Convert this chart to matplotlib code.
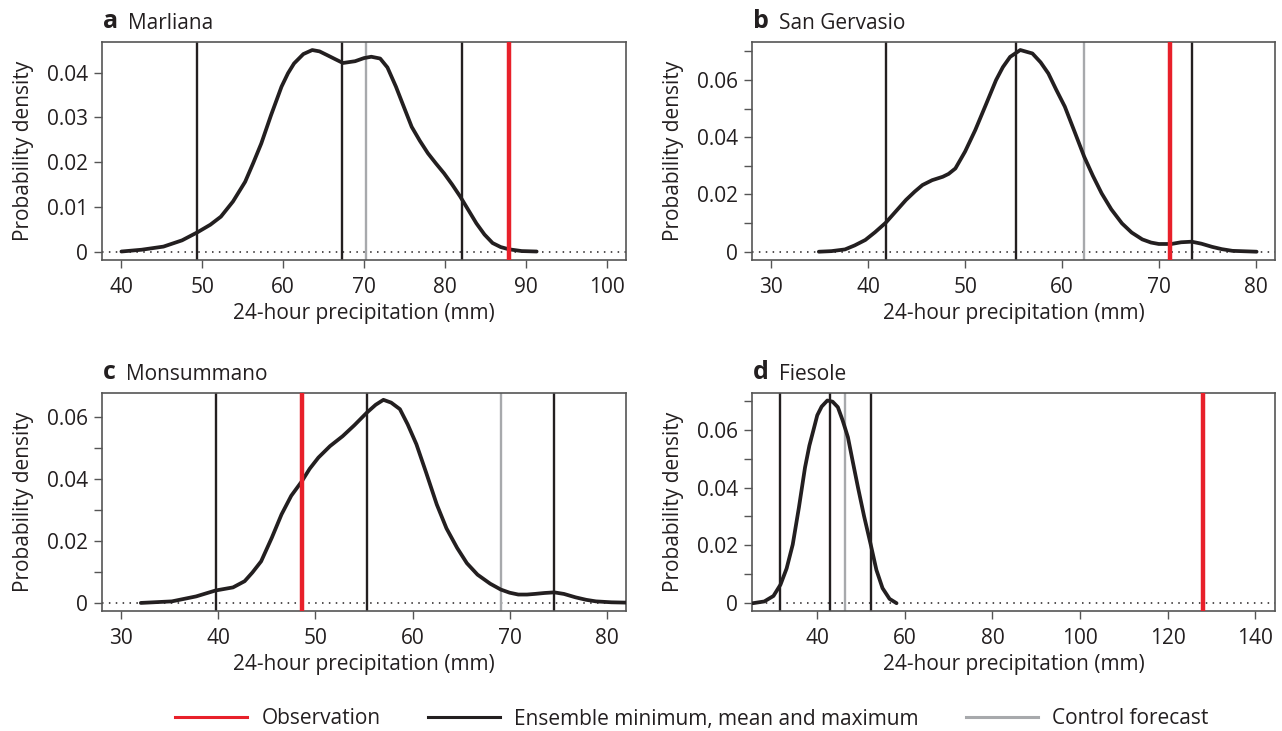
import matplotlib
matplotlib.use("Agg")
import matplotlib.pyplot as plt
from matplotlib.lines import Line2D

plt.rcParams['font.family'] = ['Open Sans', 'DejaVu Sans']

RED = '#e8202a'
BLACK = '#231f20'
GREY = '#a7a9ac'
FRAME = '#555555'

# panel letters and station names
panelLetters = ['a', 'b', 'c', 'd']
stationNames = ['Marliana', 'San Gervasio', 'Monsummano', 'Fiesole']

# density curves (x in mm, y density)
marlianaX = [40, 42.5, 45.2, 47.5, 49.4, 51.0, 52.3, 53.8, 55.3, 56.3, 57.3, 58.5, 59.8, 60.6,
             61.35, 62.5, 63.6, 64.5, 65.4, 66.5, 67.4, 68.9, 70.0, 70.9, 72.0, 72.9, 73.95,
             74.9, 75.9, 76.9, 77.9, 78.9, 79.9, 80.9, 81.9, 82.9, 83.9, 84.9, 85.9, 86.9,
             87.9, 89.5, 91.35]
marlianaY = [0.0, 0.0004, 0.0011, 0.0025, 0.0043, 0.0060, 0.0078, 0.0112, 0.0156, 0.0198, 0.0242, 0.0305, 0.0369, 0.0399,
             0.0421, 0.0442, 0.0451, 0.0448, 0.0440, 0.0430, 0.0422, 0.0426, 0.0433, 0.0436, 0.0432, 0.0412, 0.0369,
             0.0325, 0.0279, 0.0248, 0.0220, 0.0197, 0.0175, 0.0150, 0.0123, 0.0093, 0.0063, 0.0038, 0.0019, 0.0010,
             0.0005, 0.0001, 0.0]

gervasioX = [34.9, 36.2, 37.6, 38.6, 39.7, 40.7, 41.8, 43.9, 44.8, 45.6, 46.6, 47.7, 48.3, 49.0, 50.0,
             51.05, 52.1, 53.2, 53.9, 54.65, 55.7, 56.95, 57.8, 58.6, 59.4, 60.3, 61.3, 62.3, 63.2,
             64.1, 65.1, 66.2, 67.2, 68.3, 69.2, 70.0, 71.3, 72.3, 73.4, 74.4, 75.5, 76.5, 77.6, 80.1]
gervasioY = [0.0, 0.0002, 0.0008, 0.0022, 0.0041, 0.0068, 0.0101, 0.0181, 0.0210, 0.0233, 0.0250, 0.0262, 0.0272, 0.0291, 0.0350,
             0.0425, 0.0510, 0.0600, 0.0645, 0.0681, 0.0705, 0.0693, 0.0662, 0.0623, 0.0567, 0.0507, 0.0420, 0.0332, 0.0265,
             0.0204, 0.0148, 0.0099, 0.0067, 0.0043, 0.0032, 0.0027, 0.0027, 0.0033, 0.0035, 0.0028, 0.0017, 0.0009, 0.0003, 0.0]

monsummanoX = [32.0, 35.2, 37.7, 39.7, 41.5, 42.7, 43.5, 44.4, 45.5, 46.5, 47.5, 48.6, 49.4, 50.3, 51.5,
               52.8, 54.0, 55.3, 56.2, 57.0, 57.8, 58.7, 59.5, 60.4, 61.4, 62.5, 63.5, 64.6, 65.6,
               66.7, 68.0, 69.1, 70.0, 70.9, 71.8, 72.6, 73.6, 74.6, 75.6, 76.8, 77.9, 78.9, 80.5, 82.0]
monsummanoY = [0.0, 0.0005, 0.0021, 0.0040, 0.0050, 0.0070, 0.0098, 0.0134, 0.0210, 0.0285, 0.0345, 0.0392, 0.0432, 0.0468, 0.0505,
               0.0537, 0.0572, 0.0613, 0.0638, 0.0654, 0.0645, 0.0624, 0.0575, 0.0511, 0.0420, 0.0317, 0.0240, 0.0177, 0.0128,
               0.0091, 0.0062, 0.0043, 0.0033, 0.0027, 0.0027, 0.0029, 0.0032, 0.0034, 0.0029, 0.0018, 0.0010, 0.0005, 0.0002, 0.0001]

fiesoleX = [25.3, 27.9, 30.0, 31.6, 33.0, 34.4, 35.8, 37.2, 38.2, 39.1, 40.0, 41.0, 42.3, 43.5, 44.7,
            45.8, 47.0, 48.1, 49.3, 50.7, 52.2, 53.5, 54.9, 56.5, 58.1]
fiesoleY = [0.0, 0.0006, 0.0025, 0.0064, 0.0120, 0.0203, 0.0330, 0.0469, 0.0545, 0.0597, 0.0650, 0.0680, 0.0701, 0.0697, 0.0678,
            0.0632, 0.0574, 0.0490, 0.0400, 0.0300, 0.0203, 0.0115, 0.0052, 0.0015, 0.0]

curvesX = [marlianaX, gervasioX, monsummanoX, fiesoleX]
curvesY = [marlianaY, gervasioY, monsummanoY, fiesoleY]

# ensemble min / mean / max, control forecast, observation (mm)
ensembleMin = [49.4, 41.8, 39.7, 31.6]
ensembleMean = [67.3, 55.3, 55.3, 42.8]
ensembleMax = [82.1, 73.4, 74.6, 52.2]
controlForecast = [70.3, 62.3, 69.1, 46.3]
observation = [87.9, 71.2, 48.6, 128.1]

# axes ranges and ticks
xLimits = [(37.6, 102.4), (28, 82), (28, 82), (25.1, 144.5)]
yLimits = [(-0.0019, 0.0469), (-0.0029, 0.0733), (-0.0026, 0.0676), (-0.0027, 0.0727)]
xTicks = [[40, 50, 60, 70, 80, 90, 100], [30, 40, 50, 60, 70, 80],
          [30, 40, 50, 60, 70, 80], [40, 60, 80, 100, 120, 140]]
yTicks = [[0, 0.01, 0.02, 0.03, 0.04], [0, 0.02, 0.04, 0.06],
          [0, 0.02, 0.04, 0.06], [0, 0.02, 0.04, 0.06]]
yTickLabels = [['0', '0.01', '0.02', '0.03', '0.04'], ['0', '0.02', '0.04', '0.06'],
               ['0', '0.02', '0.04', '0.06'], ['0', '0.02', '0.04', '0.06']]
yMinorTicks = [[], [0.01, 0.03, 0.05, 0.07], [0.01, 0.03, 0.05], [0.01, 0.03, 0.05, 0.07]]

W, H = 1282, 731
FS = 15
fig = plt.figure(figsize=(W / 100, H / 100), dpi=100)

# axes boxes in pixels: left, top, right, bottom
boxes = [(102, 42, 626, 260), (752, 42, 1275, 260),
         (102, 393, 626, 611), (752, 393, 1275, 611)]

for i in range(4):
    l, t, r, b = boxes[i]
    ax = fig.add_axes([l / W, 1 - b / H, (r - l) / W, (b - t) / H])

    ax.axhline(0, color=BLACK, linestyle=(0, (1, 3.5)), linewidth=1.1, zorder=1)
    for xv in (ensembleMin[i], ensembleMean[i], ensembleMax[i]):
        ax.axvline(xv, color=BLACK, linewidth=1.7, zorder=2)
    ax.axvline(controlForecast[i], color=GREY, linewidth=1.7, zorder=2)
    ax.plot(curvesX[i], curvesY[i], color=BLACK, linewidth=2.7,
            solid_capstyle='round', solid_joinstyle='round', zorder=3)
    ax.axvline(observation[i], color=RED, linewidth=3.2, zorder=4)

    ax.set_xlim(xLimits[i])
    ax.set_ylim(yLimits[i])
    ax.set_xticks(xTicks[i])
    ax.set_xticklabels([str(v) for v in xTicks[i]])
    ax.set_yticks(yTicks[i])
    ax.set_yticklabels(yTickLabels[i])
    ax.set_yticks(yMinorTicks[i], minor=True)

    ax.tick_params(axis='both', which='both', direction='out', length=6, width=1,
                   color=FRAME, labelsize=FS, labelcolor=BLACK, pad=4)
    ax.tick_params(axis='x', pad=6)
    for s in ax.spines.values():
        s.set_color(FRAME)
        s.set_linewidth(1.2)

    ax.set_xlabel('24-hour precipitation (mm)', fontsize=FS, color=BLACK, labelpad=4)
    ax.set_ylabel('Probability density', fontsize=FS, color=BLACK, labelpad=9)

    letter = ax.text(0.002, 1.064, panelLetters[i], transform=ax.transAxes, fontsize=18,
                     fontweight='bold', color=BLACK, va='baseline', ha='left')
    ax.annotate(stationNames[i], xy=(1, 0), xycoords=letter, xytext=(7, 0),
                textcoords='offset points', fontsize=FS, color=BLACK, va='bottom', ha='left')

handles = [Line2D([], [], color=RED, linewidth=2.2),
           Line2D([], [], color=BLACK, linewidth=2.2),
           Line2D([], [], color=GREY, linewidth=2.2)]
labels = ['Observation', 'Ensemble minimum, mean and maximum', 'Control forecast']
fig.legend(handles, labels, loc='center', bbox_to_anchor=(692 / W, 1 - 719 / H), ncol=3,
           frameon=False, fontsize=FS, handlelength=3.45, handletextpad=0.7,
           columnspacing=2.25, labelcolor=BLACK)

fig.savefig('out.png', dpi=100)
